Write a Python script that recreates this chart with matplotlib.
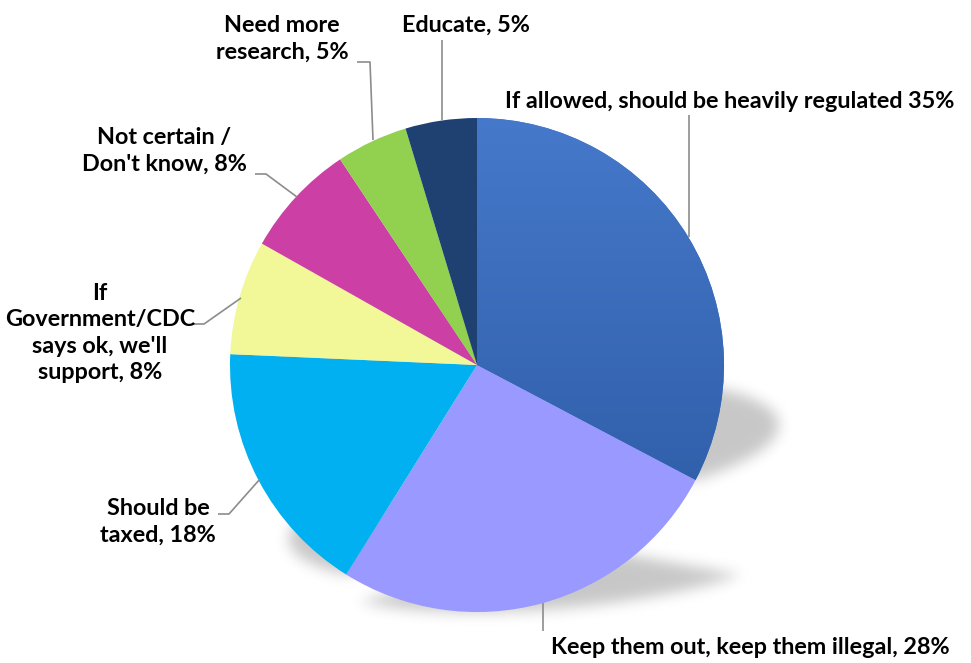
import numpy as np
import matplotlib
matplotlib.use("Agg")
import matplotlib.pyplot as plt
from matplotlib.path import Path
from matplotlib.colors import to_rgb

# ---- data ----
categories = ["If allowed, should be heavily regulated",
              "Keep them out, keep them illegal",
              "Should be taxed",
              "If Government/CDC says ok, we'll support",
              "Not certain / Don't know",
              "Need more research",
              "Educate"]
values = [35, 28, 18, 8, 8, 5, 5]
label_texts = ["If allowed, should be heavily regulated 35%",
               "Keep them out, keep them illegal, 28%",
               "Should be\ntaxed, 18%",
               "If\nGovernment/CDC\nsays ok, we'll\nsupport, 8%",
               "Not certain /\nDon't know, 8%",
               "Need more\nresearch, 5%",
               "Educate, 5%"]
colors = ["#4374C5", "#9999FF", "#00B0F0", "#F2F797", "#CC3FA4", "#92D050", "#1F4172"]

# ---- layout (pixel coordinates, y measured from top) ----
W, H = 971, 663
CX, CY, R = 477, 365, 247
label_pos = [(730, 102), (750, 647), (158, 522), (100, 333), (164, 151), (282, 39), (466, 25)]
leaders = [
    [(689, 115), (689, 237)],
    [(543, 603), (543, 631)],
    [(218, 514), (229, 514), (260, 479)],
    [(193, 324), (204, 324), (241, 298)],
    [(255, 174), (266, 174), (297, 197)],
    [(357, 62), (370, 62), (373, 140)],
    [(442, 40), (442, 120)],
]


def Y(yp):
    return H - yp


fig = plt.figure(figsize=(W / 100, H / 100), dpi=100)
ax = fig.add_axes([0, 0, 1, 1])

wedges, _ = ax.pie(values, colors=colors, startangle=90, counterclock=False,
                   center=(CX, Y(CY)), radius=R,
                   wedgeprops=dict(linewidth=0, antialiased=True), frame=True)
for w in wedges:
    w.set_zorder(2)

# ---- perspective shadows (one per slice) ----
xs = np.arange(W) + 0.5
ys = np.arange(H) + 0.5
XX, YY = np.meshgrid(xs, ys)
pts = np.column_stack([XX.ravel(), YY.ravel()])
mask = np.zeros(H * W)
k_shear, s_squash = 0.35, 0.28
for w in wedges:
    poly = w.get_path().to_polygons()[0]
    base = poly[:, 1].min()
    tx = poly[:, 0] + k_shear * (poly[:, 1] - base)
    ty = base + s_squash * (poly[:, 1] - base)
    inside = Path(np.column_stack([tx, ty])).contains_points(pts)
    mask = np.maximum(mask, inside.astype(float))
mask = mask.reshape(H, W)
sigma = 7.0
r = int(3 * sigma)
kern = np.exp(-0.5 * (np.arange(-r, r + 1) / sigma) ** 2)
kern /= kern.sum()
blur = np.apply_along_axis(lambda m: np.convolve(m, kern, mode="same"), 0, mask)
blur = np.apply_along_axis(lambda m: np.convolve(m, kern, mode="same"), 1, blur)
shadow = np.zeros((H, W, 4))
shadow[..., 3] = np.clip(blur, 0, 1) * 0.22
ax.imshow(shadow, extent=(0, W, 0, H), origin="lower", zorder=0.5, interpolation="bilinear")

# ---- gradient on first slice ----
top = np.array(to_rgb("#4679CB"))
bot = np.array(to_rgb("#3160AB"))
t = np.linspace(0, 1, 256).reshape(-1, 1, 1)
grad = top + (bot - top) * t
im = ax.imshow(grad, extent=(CX - 2, CX + R + 2, Y(484), Y(114)), origin="upper",
               aspect="auto", zorder=2.5, interpolation="bilinear")
im.set_clip_path(wedges[0])

# ---- labels and leader lines ----
for txt, (lx, ly), pts_l in zip(label_texts, label_pos, leaders):
    ax.text(lx, Y(ly), txt, ha="center", va="center", multialignment="center",
            fontsize=16.8, fontweight="bold", family="Lato", color="black",
            linespacing=1.3, zorder=5)
    px = [p[0] for p in pts_l]
    py = [Y(p[1]) for p in pts_l]
    ax.plot(px, py, color="#8C8C8C", lw=1.2, zorder=4, solid_capstyle="butt")

ax.set_xlim(0, W)
ax.set_ylim(0, H)
ax.set_aspect("auto")
ax.axis("off")
fig.savefig("out.png", dpi=100)
